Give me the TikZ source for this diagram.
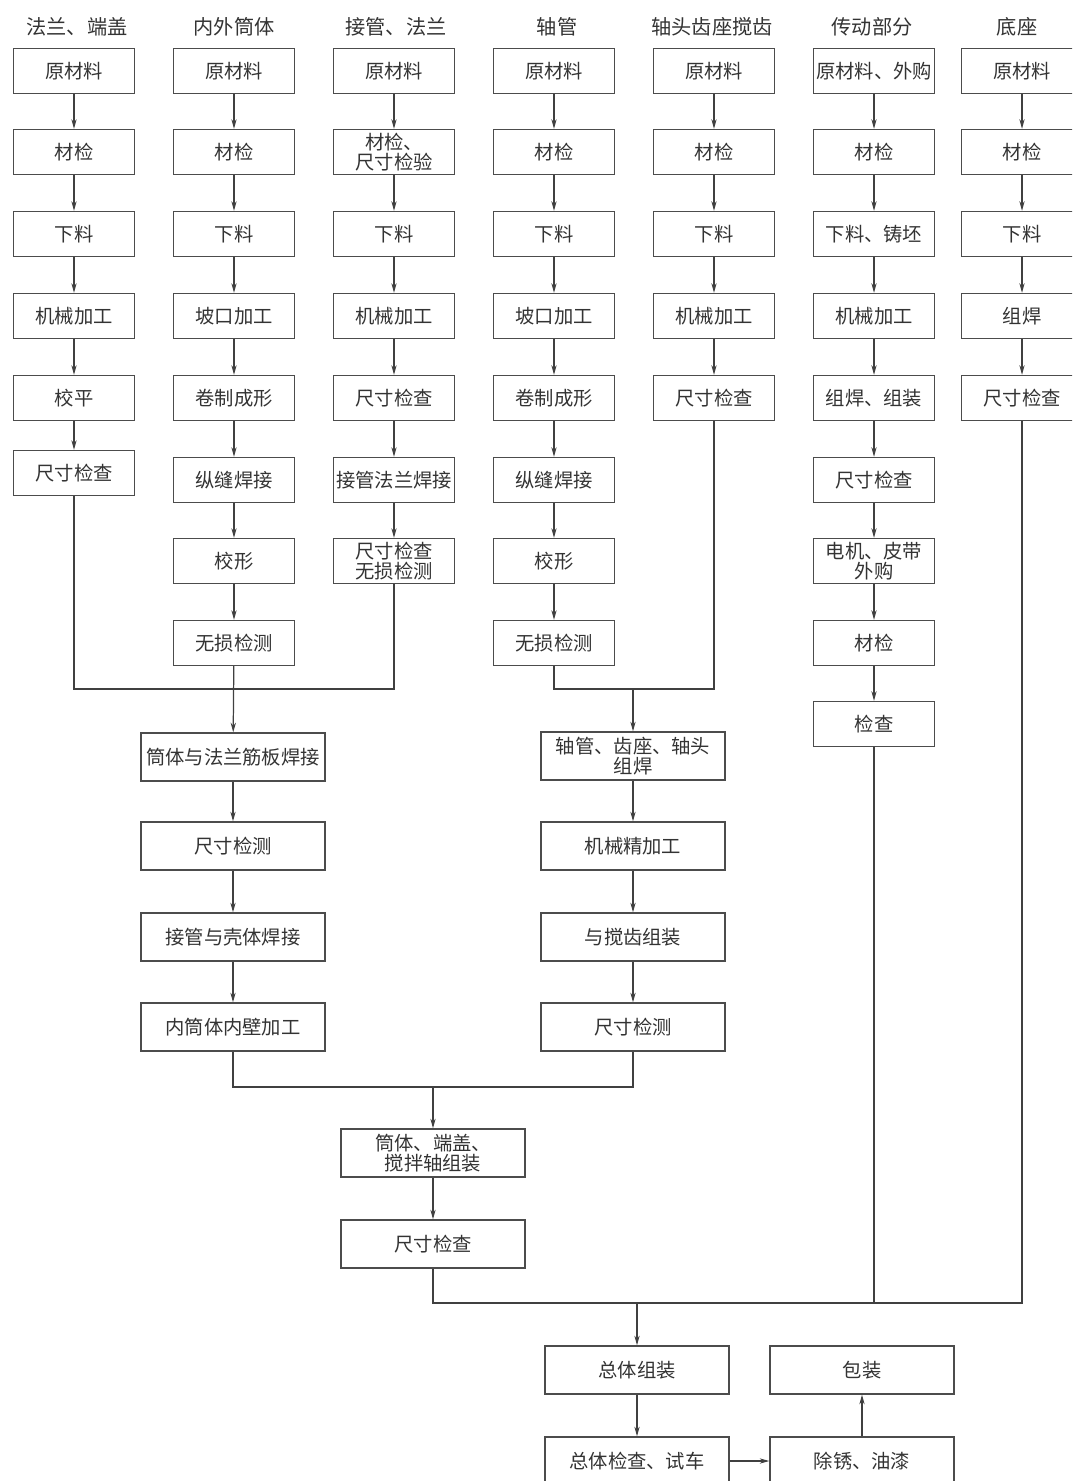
\documentclass[tikz,border=0pt]{standalone}
\usepackage{fontspec}
\setmainfont{Noto Sans CJK SC}
\usetikzlibrary{arrows.meta}
\tikzset{
  stepbox/.style={draw=black!70, line width=0.8pt, minimum width=2.42cm, minimum height=0.9cm,
    inner sep=0pt, align=center, text=black!80, font=\fontsize{11}{11.5}\selectfont},
  widebox/.style={stepbox, minimum width=3.68cm, minimum height=0.96cm},
  title/.style={text=black!80, font=\fontsize{11.5}{12}\selectfont},
  flow/.style={draw=black!75, line width=0.7pt},
}
\begin{document}
\begin{tikzpicture}[x=0.02cm,y=-0.02cm,>={Stealth[length=5.5pt,width=3pt]}]
		\useasboundingbox (0,0) rectangle (1072,1481);
		\clip (0,0) rectangle (1072,1481);
		% column titles
		\node[title] (h1) at (77,27)   {法兰、端盖};
		\node[title] (h2) at (234,27)  {内外筒体};
		\node[title] (h3) at (396,27)  {接管、法兰};
		\node[title] (h4) at (557,27)  {轴管};
		\node[title] (h5) at (712,27)  {轴头齿座搅齿};
		\node[title] (h6) at (872,27)  {传动部分};
		\node[title] (h7) at (1017,27) {底座};
		% column 1
		\node[stepbox] (c1r1) at (74,71)  {原材料};
		\node[stepbox] (c1r2) at (74,152) {材检};
		\node[stepbox] (c1r3) at (74,234) {下料};
		\node[stepbox] (c1r4) at (74,316) {机械加工};
		\node[stepbox] (c1r5) at (74,398) {校平};
		\node[stepbox] (c1r6) at (74,473) {尺寸检查};
		% column 2
		\node[stepbox] (c2r1) at (234,71)  {原材料};
		\node[stepbox] (c2r2) at (234,152) {材检};
		\node[stepbox] (c2r3) at (234,234) {下料};
		\node[stepbox] (c2r4) at (234,316) {坡口加工};
		\node[stepbox] (c2r5) at (234,398) {卷制成形};
		\node[stepbox] (c2r6) at (234,480) {纵缝焊接};
		\node[stepbox] (c2r7) at (234,561) {校形};
		\node[stepbox] (c2r8) at (234,643) {无损检测};
		% column 3
		\node[stepbox] (c3r1) at (394,71)  {原材料};
		\node[stepbox] (c3r2) at (394,152) {材检、\\尺寸检验};
		\node[stepbox] (c3r3) at (394,234) {下料};
		\node[stepbox] (c3r4) at (394,316) {机械加工};
		\node[stepbox] (c3r5) at (394,398) {尺寸检查};
		\node[stepbox] (c3r6) at (394,480) {接管法兰焊接};
		\node[stepbox] (c3r7) at (394,561) {尺寸检查\\无损检测};
		% column 4
		\node[stepbox] (c4r1) at (554,71)  {原材料};
		\node[stepbox] (c4r2) at (554,152) {材检};
		\node[stepbox] (c4r3) at (554,234) {下料};
		\node[stepbox] (c4r4) at (554,316) {坡口加工};
		\node[stepbox] (c4r5) at (554,398) {卷制成形};
		\node[stepbox] (c4r6) at (554,480) {纵缝焊接};
		\node[stepbox] (c4r7) at (554,561) {校形};
		\node[stepbox] (c4r8) at (554,643) {无损检测};
		% column 5
		\node[stepbox] (c5r1) at (714,71)  {原材料};
		\node[stepbox] (c5r2) at (714,152) {材检};
		\node[stepbox] (c5r3) at (714,234) {下料};
		\node[stepbox] (c5r4) at (714,316) {机械加工};
		\node[stepbox] (c5r5) at (714,398) {尺寸检查};
		% column 6
		\node[stepbox] (c6r1) at (874,71)  {原材料、外购};
		\node[stepbox] (c6r2) at (874,152) {材检};
		\node[stepbox] (c6r3) at (874,234) {下料、铸坯};
		\node[stepbox] (c6r4) at (874,316) {机械加工};
		\node[stepbox] (c6r5) at (874,398) {组焊、组装};
		\node[stepbox] (c6r6) at (874,480) {尺寸检查};
		\node[stepbox] (c6r7) at (874,561) {电机、皮带\\外购};
		\node[stepbox] (c6r8) at (874,643) {材检};
		\node[stepbox] (c6r9) at (874,724) {检查};
		% column 7
		\node[stepbox] (c7r1) at (1022,71)  {原材料};
		\node[stepbox] (c7r2) at (1022,152) {材检};
		\node[stepbox] (c7r3) at (1022,234) {下料};
		\node[stepbox] (c7r4) at (1022,316) {组焊};
		\node[stepbox] (c7r5) at (1022,398) {尺寸检查};
		% chain arrows inside each column
		\foreach \c/\n in {1/6,2/8,3/7,4/8,5/5,6/9,7/5}
			\foreach \i in {2,...,\n}{
				\pgfmathtruncatemacro\j{\i-1}
				\draw[flow,->] (c\c r\j) -- (c\c r\i);
			}
		% shell branch
		\node[widebox] (a1) at (233,757)  {筒体与法兰筋板焊接};
		\node[widebox] (a2) at (233,846)  {尺寸检测};
		\node[widebox] (a3) at (233,937)  {接管与壳体焊接};
		\node[widebox] (a4) at (233,1027) {内筒体内壁加工};
		% shaft branch
		\node[widebox] (b1) at (633,756)  {轴管、齿座、轴头\\组焊};
		\node[widebox] (b2) at (633,846)  {机械精加工};
		\node[widebox] (b3) at (633,937)  {与搅齿组装};
		\node[widebox] (b4) at (633,1027) {尺寸检测};
		% assembly
		\node[widebox] (m1) at (433,1153) {筒体、端盖、\\搅拌轴组装};
		\node[widebox] (m2) at (433,1244) {尺寸检查};
		% final steps
		\node[widebox] (f1) at (637,1370) {总体组装};
		\node[widebox] (f2) at (637,1461) {总体检查、试车};
		\node[widebox] (f3) at (862,1461) {除锈、油漆};
		\node[widebox] (f4) at (862,1370) {包装};
		% junction points
		\coordinate (j1) at (234,689);
		\coordinate (j2) at (633,689);
		\coordinate (j3) at (433,1087);
		\coordinate (j4) at (637,1303);
		% merge lines
		\draw[flow] (c1r6.south) |- (j1) -| (c3r7.south);
		\draw[flow,->] (c2r8) -- (a1);
		\draw[flow] (c4r8.south) |- (j2) -| (c5r5.south);
		\draw[flow,->] (j2) -- (b1);
		\draw[flow,->] (a1) -- (a2);
		\draw[flow,->] (a2) -- (a3);
		\draw[flow,->] (a3) -- (a4);
		\draw[flow,->] (b1) -- (b2);
		\draw[flow,->] (b2) -- (b3);
		\draw[flow,->] (b3) -- (b4);
		\draw[flow] (a4.south) |- (j3) -| (b4.south);
		\draw[flow,->] (j3) -- (m1);
		\draw[flow,->] (m1) -- (m2);
		\draw[flow] (m2.south) |- (j4) -| (c7r5.south);
		\draw[flow] (c6r9.south) -- (c6r9.south |- j4);
		\draw[flow,->] (j4) -- (f1);
		\draw[flow,->] (f1) -- (f2);
		\draw[flow,->] (f2) -- (f3);
		\draw[flow,->] (f3) -- (f4);
	\end{tikzpicture}
\end{document}
